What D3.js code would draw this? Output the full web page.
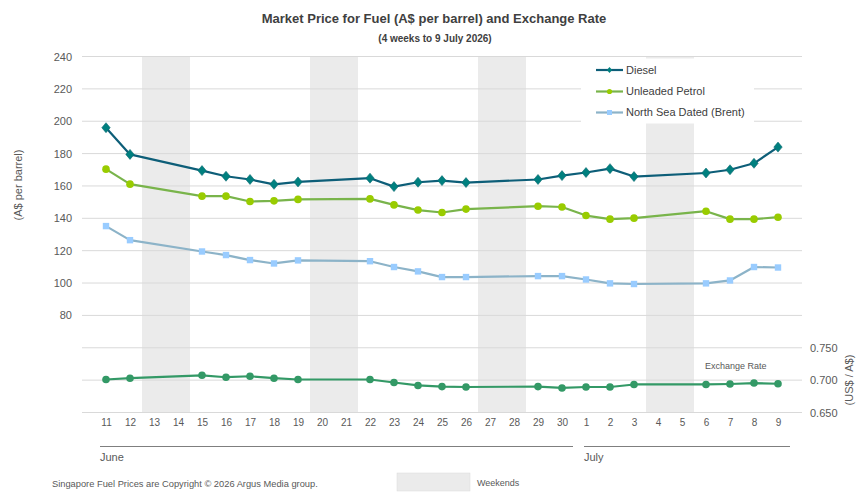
<!DOCTYPE html>
<html><head><meta charset="utf-8">
<script src="https://cdn.jsdelivr.net/npm/d3@7"></script>
<style>body{margin:0;background:#fff}svg{display:block;font-family:"Liberation Sans",Arial,sans-serif}</style>
</head><body><svg id="c" width="868" height="504"></svg>
<script>
const days = ["11","12","13","14","15","16","17","18","19","20","21","22","23","24","25","26","27","28","29","30","1","2","3","4","5","6","7","8","9"];
const weekends = [["13","14"],["20","21"],["27","28"],["4","5"]];
const diesel = [196,179.5,null,null,169.5,166,164,161,162.5,null,null,164.8,159.6,162.3,163.3,162.1,null,null,164,166.4,168.3,170.7,165.8,null,null,168,170,174,184];
const petrol = [170.4,161.1,null,null,153.7,153.7,150.4,150.8,151.7,null,null,152,148.3,145.1,143.6,145.7,null,null,147.5,147,141.7,139.5,140.1,null,null,144.4,139.5,139.5,140.7];
const brent = [135.2,126.5,null,null,119.5,117.3,114.2,112.1,114,null,null,113.5,109.9,107.2,103.7,103.7,null,null,104.3,104.3,102.2,99.8,99.4,null,null,99.8,101.6,109.9,109.6];
const fx = [0.701,0.703,null,null,0.7075,0.7045,0.706,0.703,0.701,null,null,0.701,0.6964,0.6918,0.690,0.6894,null,null,0.690,0.6879,0.6894,0.6894,0.6933,null,null,0.6933,0.694,0.6955,0.6944];
const leftTicks = [80,100,120,140,160,180,200,220,240];
const gridVals = [40,60,80,100,120,140,160,180,200,220,240];
const rightTicks = [0.650,0.700,0.750];
const months = [{name:"June",from:"11",to:"30"},{name:"July",from:"1",to:"9"}];
const seriesNames = ["Diesel","Unleaded Petrol","North Sea Dated (Brent)"];

const svg = d3.select("#c");
const L=82,R=802,T=56.5,B=412.5;
const x = d3.scalePoint().domain(days).range([L,R]).padding(1);
const step = x.step();
const y = d3.scaleLinear().domain([20,240]).range([B,T]);
const y2 = d3.scaleLinear().domain([0.65,0.75]).range([B,y(60)]);

// weekend bands
svg.append("g").selectAll("rect").data(weekends).join("rect")
  .attr("x",d=>x(d[0])-step/2).attr("width",d=>x(d[1])-x(d[0])+step)
  .attr("y",T).attr("height",B-T).attr("fill","#ebebeb");

// gridlines
svg.append("g").selectAll("line").data(gridVals).join("line")
  .attr("x1",L).attr("x2",R).attr("y1",d=>y(d)).attr("y2",d=>y(d))
  .attr("stroke","#d9d9d9").attr("stroke-width",1);
svg.append("line").attr("x1",L).attr("x2",R).attr("y1",B).attr("y2",B).attr("stroke","#d9d9d9");

// left axis
const ya = d3.axisLeft(y).tickValues(leftTicks).tickSize(0).tickPadding(0);
const gy = svg.append("g").attr("transform",`translate(${L-10},0)`).call(ya);
gy.select(".domain").remove();
gy.selectAll("text").attr("fill","#595959").style("font-size","11px").style("font-family","Liberation Sans, Arial");

// right axis
const ya2 = d3.axisRight(y2).tickValues(rightTicks).tickFormat(d3.format(".3f")).tickSize(0).tickPadding(0);
const gy2 = svg.append("g").attr("transform",`translate(810,0)`).call(ya2);
gy2.select(".domain").remove();
gy2.selectAll("text").attr("fill","#595959").style("font-size","11px").style("font-family","Liberation Sans, Arial");

// x axis
const xa = d3.axisBottom(x).tickSize(0).tickPadding(0);
const gx = svg.append("g").attr("transform",`translate(0,${B+6})`).call(xa);
gx.select(".domain").remove();
gx.selectAll("text").attr("fill","#595959").style("font-size","10px").style("font-family","Liberation Sans, Arial");

// month lines
months.forEach((m,i)=>{
  const x1 = i===0 ? x(m.from)-6 : x(m.from)-2;
  const x2 = i===0 ? x(m.to)+11 : x(m.to)+12;
  svg.append("line").attr("x1",x1).attr("x2",x2).attr("y1",446.5).attr("y2",446.5).attr("stroke","#7f7f7f").attr("stroke-width",1);
  svg.append("text").attr("x",x1).attr("y",461).attr("fill","#595959").style("font-size","11px").text(m.name);
});

// legend box
svg.append("rect").attr("x",581).attr("y",58.5).attr("width",173).attr("height",65).attr("fill","#fff");

const diamond = "M0,-5L4.2,0L0,5L-4.2,0Z";
const diamondS = "M0,-3L2.6,0L0,3L-2.6,0Z";
function drawSeries(vals, scale, lineColor, markerColor, shape){
  const pts = days.map((d,i)=>({d, v:vals[i]})).filter(p=>p.v!==null);
  const line = d3.line().x(p=>x(p.d)).y(p=>scale(p.v));
  svg.append("path").datum(pts).attr("d",line).attr("fill","none").attr("stroke",lineColor).attr("stroke-width",2.2).attr("stroke-linejoin","round");
  const g = svg.append("g");
  pts.forEach(p=>{
    const cx=x(p.d), cy=scale(p.v);
    if(shape==="diamond") g.append("path").attr("d",diamond).attr("transform",`translate(${cx},${cy})`).attr("fill",markerColor).attr("stroke","#0d6a72").attr("stroke-width",0.6);
    else if(shape==="circle") g.append("circle").attr("cx",cx).attr("cy",cy).attr("r",3.8).attr("fill",markerColor);
    else g.append("rect").attr("x",cx-3.2).attr("y",cy-3.2).attr("width",6.4).attr("height",6.4).attr("fill",markerColor);
  });
}
const colors = {diesel:["#0d5e78","#00807f"], petrol:["#79b44b","#99cc00"], brent:["#8cb3c8","#99ccff"], fx:["#339966","#339966"]};
drawSeries(brent, y, colors.brent[0], colors.brent[1], "square");
drawSeries(petrol, y, colors.petrol[0], colors.petrol[1], "circle");
drawSeries(diesel, y, colors.diesel[0], colors.diesel[1], "diamond");
drawSeries(fx, y2, colors.fx[0], colors.fx[1], "circle");

// legend entries
const lg = [{n:seriesNames[0],c:colors.diesel,s:"diamond",y:70},{n:seriesNames[1],c:colors.petrol,s:"circle",y:91.5},{n:seriesNames[2],c:colors.brent,s:"square",y:112.5}];
lg.forEach(e=>{
  svg.append("line").attr("x1",596).attr("x2",623).attr("y1",e.y).attr("y2",e.y).attr("stroke",e.c[0]).attr("stroke-width",2.2);
  if(e.s==="diamond") svg.append("path").attr("d",diamondS).attr("transform",`translate(609.5,${e.y})`).attr("fill",e.c[1]);
  else if(e.s==="circle") svg.append("circle").attr("cx",609.5).attr("cy",e.y).attr("r",2.6).attr("fill",e.c[1]);
  else svg.append("rect").attr("x",607).attr("y",e.y-2.5).attr("width",5).attr("height",5).attr("fill",e.c[1]);
  svg.append("text").attr("x",626).attr("y",e.y).attr("dy","0.35em").attr("fill","#404040").style("font-size","11px").text(e.n);
});

// exchange rate label
svg.append("text").attr("x",705).attr("y",366).attr("dy","0.35em").attr("fill","#595959").style("font-size","9px").text("Exchange Rate");

// titles
svg.append("text").attr("x",434).attr("y",18).attr("dy","0.35em").attr("text-anchor","middle").attr("fill","#404040").style("font-size","13px").style("font-weight","bold").text("Market Price for Fuel (A$ per barrel) and Exchange Rate");
svg.append("text").attr("x",435).attr("y",38).attr("dy","0.35em").attr("text-anchor","middle").attr("fill","#404040").style("font-size","10px").style("font-weight","bold").text("(4 weeks to 9 July 2026)");

// axis titles
svg.append("text").attr("transform","translate(18,185) rotate(-90)").attr("text-anchor","middle").attr("dy","0.35em").attr("fill","#595959").style("font-size","11px").text("(A$ per barrel)");
svg.append("text").attr("transform","translate(849,380) rotate(-90)").attr("text-anchor","middle").attr("dy","0.35em").attr("fill","#595959").style("font-size","11px").text("(US$ / A$)");

// footer
svg.append("text").attr("x",52).attr("y",484).attr("dy","0.35em").attr("fill","#595959").style("font-size","9.3px").text("Singapore Fuel Prices are Copyright © 2026 Argus Media group.");
svg.append("rect").attr("x",397).attr("y",473).attr("width",73).attr("height",18).attr("fill","#ebebeb").attr("stroke","#d9d9d9").attr("stroke-width",0.5);
svg.append("text").attr("x",477).attr("y",483).attr("dy","0.35em").attr("fill","#595959").style("font-size","9px").text("Weekends");
</script></body></html>
